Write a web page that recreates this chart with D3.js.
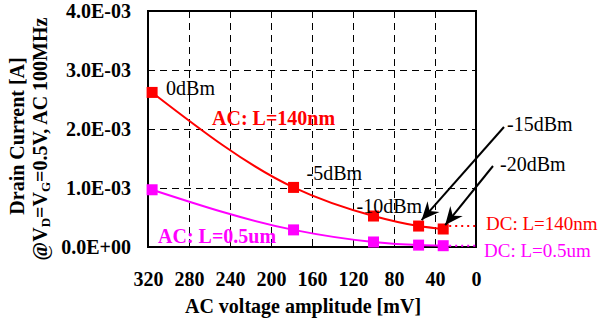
<!DOCTYPE html>
<html>
<head>
<meta charset="utf-8">
<script src="https://cdn.jsdelivr.net/npm/d3@7"></script>
<style>
  html, body { margin: 0; padding: 0; background: #fff; }
  svg { display: block; }
  text { font-family: "Liberation Serif", "Times New Roman", serif; }
</style>
</head>
<body>
<svg id="chart" width="611" height="324"></svg>
<script>
// AC amplitude (mV) for each input power level
const powerLabels = ["0dBm", "-5dBm", "-10dBm", "-15dBm", "-20dBm"];
const amplitudes = [316, 178, 100, 56, 32];
// Drain current (A) under AC drive
const current140nm = [2.62e-3, 1.01e-3, 0.525e-3, 0.355e-3, 0.305e-3];
const current05um = [0.97e-3, 0.29e-3, 0.085e-3, 0.032e-3, 0.022e-3];
// Drain current (A) with DC bias only
const dc140nm = 0.355e-3;
const dc05um = 0.02e-3;
// Axis ticks
const xTicks = [320, 280, 240, 200, 160, 120, 80, 40, 0];
const yTicks = [0, 1e-3, 2e-3, 3e-3, 4e-3];
const yTickLabels = ["0.0E+00", "1.0E-03", "2.0E-03", "3.0E-03", "4.0E-03"];

const RED = "#ff0000", MAG = "#ff00ff";
const svg = d3.select("#chart");
const plotL = 148, plotR = 476, plotT = 11, plotB = 247;

const x = d3.scaleLinear().domain([320, 0]).range([plotL, plotR]);
const y = d3.scaleLinear().domain([0, 4e-3]).range([plotB, plotT]);
const crisp = v => Math.round(v) + 0.5;

svg.append("rect").attr("width", 611).attr("height", 324).attr("fill", "#fff");

// dashed grid
const grid = svg.append("g").attr("stroke", "#000").attr("stroke-width", 1)
  .attr("stroke-dasharray", "7,5");
grid.selectAll(".gx").data(xTicks.slice(1, -1)).join("line")
  .attr("x1", d => crisp(x(d))).attr("x2", d => crisp(x(d)))
  .attr("y1", plotT).attr("y2", plotB);
grid.selectAll(".gy").data(yTicks.slice(1, -1)).join("line")
  .attr("x1", plotL).attr("x2", plotR)
  .attr("y1", d => crisp(y(d))).attr("y2", d => crisp(y(d)));

// axes with labels
const xAxis = d3.axisBottom(x).tickValues(xTicks).tickSize(0).tickPadding(0).tickFormat(d3.format("d"));
const gx = svg.append("g").attr("transform", `translate(0,${plotB})`).call(xAxis);
gx.select(".domain").remove();
gx.selectAll("text").attr("dy", null).attr("y", 39)
  .attr("font-size", 20).attr("font-weight", "bold").attr("fill", "#000")
  .attr("font-family", "Liberation Serif");

const yAxis = d3.axisLeft(y).tickValues(yTicks).tickSize(0).tickPadding(0)
  .tickFormat((d, i) => yTickLabels[i]);
const gy = svg.append("g").attr("transform", `translate(${plotL},0)`).call(yAxis);
gy.select(".domain").remove();
gy.selectAll("text").attr("x", -17).attr("dy", "0.34em")
  .attr("font-size", 20).attr("font-weight", "bold").attr("fill", "#000")
  .attr("font-family", "Liberation Serif");

// plot frame
svg.append("rect").attr("x", plotL).attr("y", plotT)
  .attr("width", plotR - plotL).attr("height", plotB - plotT)
  .attr("fill", "none").attr("stroke", "#000").attr("stroke-width", 2);

// axis titles
svg.append("text").attr("x", 303).attr("y", 313).attr("text-anchor", "middle")
  .attr("font-size", 20).attr("font-weight", "bold").text("AC voltage amplitude [mV]");

const yt = svg.append("g").attr("transform", "translate(0,136) rotate(-90)")
  .attr("font-weight", "bold").attr("text-anchor", "middle");
yt.append("text").attr("x", 0).attr("y", 24).attr("font-size", 20).text("Drain Current [A]");
const yt2 = yt.append("text").attr("x", -3).attr("y", 47).attr("font-size", 20);
yt2.append("tspan").text("@V");
yt2.append("tspan").attr("font-size", 13).attr("dy", 3).text("D");
yt2.append("tspan").attr("dy", -3).text("=V");
yt2.append("tspan").attr("font-size", 13).attr("dy", 3).text("G");
yt2.append("tspan").attr("dy", -3).text("=0.5V, AC 100MHz");

// DC reference lines (dotted) from the lowest amplitude to zero
const dcLines = [[dc140nm, RED], [dc05um, MAG]];
svg.selectAll(".dc").data(dcLines).join("line")
  .attr("x1", x(amplitudes[amplitudes.length - 1])).attr("x2", x(0))
  .attr("y1", d => y(d[0])).attr("y2", d => y(d[0]))
  .attr("stroke", d => d[1]).attr("stroke-width", 2).attr("stroke-dasharray", "2,4");

// series curves and markers
const series = [[current140nm, RED], [current05um, MAG]];
const line = d3.line().x(d => x(d[0])).y(d => y(d[1])).curve(d3.curveMonotoneX);
series.forEach(([vals, col]) => {
  const pts = amplitudes.map((a, i) => [a, vals[i]]);
  svg.append("path").datum(pts).attr("d", line)
    .attr("fill", "none").attr("stroke", col).attr("stroke-width", 2);
  svg.append("g").selectAll("rect").data(pts).join("rect")
    .attr("x", d => x(d[0]) - 5.5).attr("y", d => y(d[1]) - 5.5)
    .attr("width", 11).attr("height", 11).attr("fill", col);
});

// power-level labels next to the 140nm points
const labelOffsets = [[14, 3], [13, -7], [-17, -3]];
labelOffsets.forEach((off, i) => {
  svg.append("text")
    .attr("x", x(amplitudes[i]) + off[0]).attr("y", y(current140nm[i]) + off[1])
    .attr("font-size", 20).text(powerLabels[i]);
});

// arrows for the two lowest power levels
svg.append("defs").append("marker").attr("id", "head")
  .attr("viewBox", "-18 -9 20 18").attr("refX", 0).attr("refY", 0)
  .attr("markerWidth", 20).attr("markerHeight", 18).attr("markerUnits", "userSpaceOnUse")
  .attr("orient", "auto")
  .append("path").attr("d", "M0,0 L-18,-8 L-12,0 L-18,8 Z").attr("fill", "#000");

const arrows = [
  { i: 3, tail: [504, 127], tip: [3, -6], label: [507, 131] },
  { i: 4, tail: [493, 166], tip: [2, -4], label: [500, 171] }
];
arrows.forEach(a => {
  const tx = x(amplitudes[a.i]) + a.tip[0], ty = y(current140nm[a.i]) + a.tip[1];
  svg.append("line").attr("x1", a.tail[0]).attr("y1", a.tail[1])
    .attr("x2", tx).attr("y2", ty)
    .attr("stroke", "#000").attr("stroke-width", 2).attr("marker-end", "url(#head)");
  svg.append("text").attr("x", a.label[0]).attr("y", a.label[1])
    .attr("font-size", 20).text(powerLabels[a.i]);
});

// series captions
svg.append("text").attr("x", 212).attr("y", 125).attr("font-size", 20)
  .attr("font-weight", "bold").attr("fill", RED).text("AC: L=140nm");
svg.append("text").attr("x", 158).attr("y", 243).attr("font-size", 20)
  .attr("font-weight", "bold").attr("fill", MAG).text("AC: L=0.5um");
svg.append("text").attr("x", 486).attr("y", 230).attr("font-size", 19)
  .attr("fill", RED).text("DC: L=140nm");
svg.append("text").attr("x", 484).attr("y", 257).attr("font-size", 19)
  .attr("fill", MAG).text("DC: L=0.5um");
</script>
</body>
</html>
